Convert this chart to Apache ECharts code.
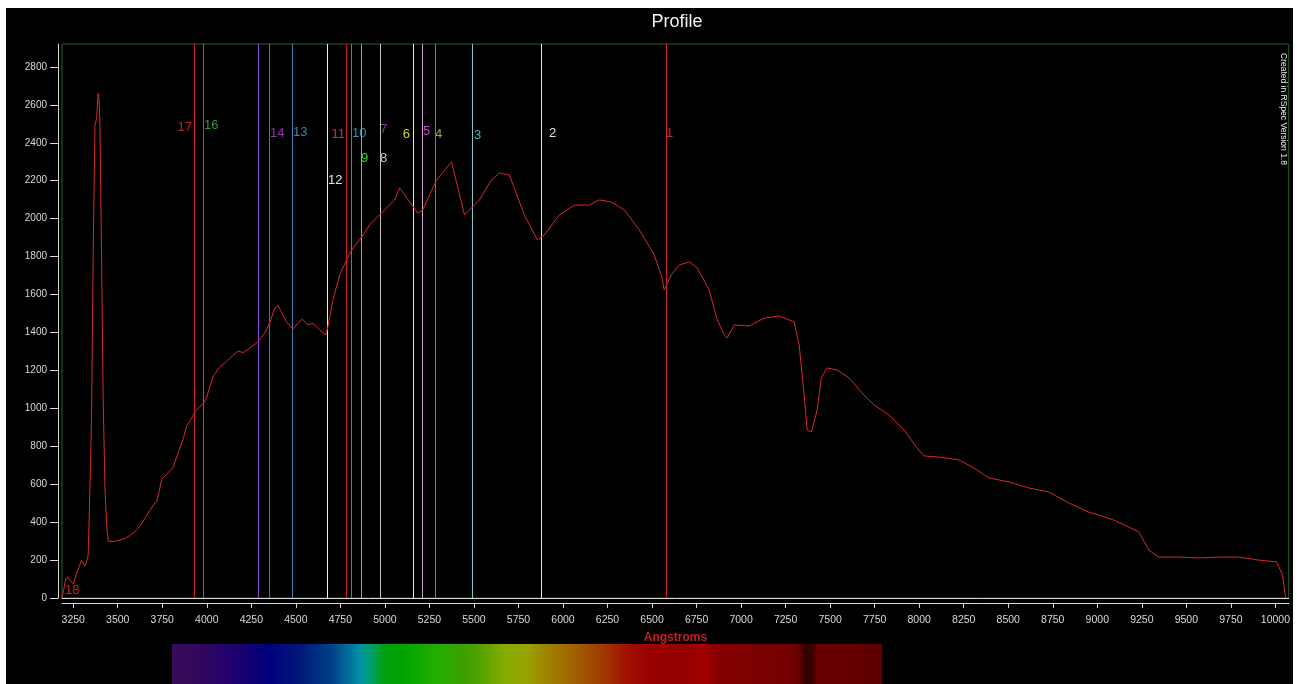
<!DOCTYPE html>
<html>
<head>
<meta charset="utf-8">
<script src="https://cdn.jsdelivr.net/npm/echarts@6/dist/echarts.min.js"></script>
<style>
  html, body { margin: 0; padding: 0; background: #fff; width: 1297px; height: 684px; overflow: hidden; }
  #chart { position: absolute; left: 6px; top: 8px; width: 1287px; height: 676px; background: #000; }
</style>
</head>
<body>
<div id="chart"></div>
<script>
// Spectral profile (wavelength in Angstroms, intensity in counts)
const wavelengths = [
  3187, 3191, 3200, 3208, 3216, 3225, 3235, 3250, 3260, 3269, 3285, 3297, 3306, 3316, 3325, 3334,
  3344, 3353, 3362, 3372, 3381, 3390, 3395, 3400, 3409, 3418, 3428, 3437, 3446, 3456, 3475, 3493,
  3512, 3530, 3549, 3568, 3587, 3606, 3625, 3643, 3662, 3680, 3700, 3718, 3732, 3746, 3760, 3774,
  3792, 3811, 3830, 3849, 3868, 3886, 3905, 3923, 3933, 3961, 3980, 3998, 4035, 4073, 4110, 4148,
  4176, 4204, 4241, 4288, 4325, 4353, 4381, 4400, 4419, 4447, 4484, 4512, 4537, 4568, 4596, 4634,
  4668, 4680, 4708, 4746, 4780, 4813, 4870, 4914, 4970, 5055, 5083, 5184, 5212, 5290, 5374, 5447,
  5475, 5531, 5598, 5643, 5699, 5783, 5856, 5895, 5980, 6064, 6148, 6204, 6271, 6344, 6428, 6512,
  6557, 6568, 6608, 6653, 6709, 6754, 6821, 6866, 6905, 6922, 6961, 7046, 7130, 7214, 7298, 7326,
  7354, 7371, 7394, 7427, 7450, 7483, 7539, 7607, 7674, 7747, 7831, 7915, 7988, 8027, 8111, 8223,
  8307, 8391, 8504, 8616, 8728, 8840, 8952, 9008, 9092, 9177, 9233, 9289, 9345, 9457, 9569, 9681,
  9793, 9906, 10007, 10040, 10057
];
const intensities = [
  0, 8, 60, 100, 112, 105, 90, 75, 100, 132, 170, 198, 185, 170, 190, 226,
  585, 962, 1811, 2490, 2528, 2660, 2640, 2490, 1811, 1057, 585, 396, 300, 292, 298, 302,
  305, 311, 318, 330, 345, 358, 380, 406, 435, 462, 490, 509, 560, 623, 640, 651,
  670, 689, 740, 792, 840, 905, 935, 962, 982, 1009, 1025, 1055, 1167, 1218, 1246, 1281,
  1302, 1294, 1317, 1351, 1396, 1449, 1528, 1540, 1510, 1457, 1417, 1449, 1470, 1440, 1449, 1413,
  1387, 1431, 1571, 1703, 1772, 1835, 1904, 1967, 2020, 2099, 2162, 2030, 2046, 2204, 2299, 2020,
  2046, 2099, 2204, 2241, 2230, 2020, 1888, 1914, 2020, 2072, 2072, 2099, 2088, 2046, 1941, 1809,
  1687, 1624, 1703, 1756, 1772, 1740, 1624, 1466, 1387, 1371, 1440, 1434, 1476, 1487, 1455, 1334,
  1070, 886, 875, 991, 1160, 1213, 1202, 1160, 1086, 1018, 965, 886, 791, 749, 743, 728,
  686, 633, 612, 580, 559, 501, 453, 438, 411, 374, 348, 253, 216, 216, 211, 216,
  216, 200, 190, 121, 0
];

// Axis ticks
const xTicks = [3250, 3500, 3750, 4000, 4250, 4500, 4750, 5000, 5250, 5500, 5750, 6000, 6250, 6500,
  6750, 7000, 7250, 7500, 7750, 8000, 8250, 8500, 8750, 9000, 9250, 9500, 9750, 10000];
const yTicks = [0, 200, 400, 600, 800, 1000, 1200, 1400, 1600, 1800, 2000, 2200, 2400, 2600, 2800];

// Identified line markers
const markerNames = ['1', '2', '3', '4', '5', '6', '7', '8', '9', '10', '11', '12', '13', '14', '15', '16', '17', '18'];
const markerWavelengths = [6579, 5874, 5488, 5282, 5208, 5159, 4970, 4970, 4868, 4809, 4780, 4676, 4481, 4348, 4288, 3976, 3929, 3187];

// Visible spectrum strip (wavelength, colour)
const stripWavelengths = [3804, 3950, 4190, 4350, 4520, 4690, 4820, 4860, 4920, 4990, 5100, 5290, 5430, 5500,
  5680, 5810, 5900, 6070, 6260, 6360, 6480, 6650, 6790, 6880, 7100, 7300, 7330, 7365, 7395, 7430, 7600, 7792];
const stripColors = ['#3a0a56', '#33085e', '#1a0070', '#00007e', '#001878', '#003c88', '#0078a0', '#0092a4',
  '#00a070', '#00a010', '#00a400', '#22b000', '#3aa000', '#48a000', '#88ac00', '#98a000', '#a08400', '#a06000',
  '#a03000', '#a01000', '#9a0000', '#940000', '#a00000', '#860000', '#7c0000', '#700000', '#600000', '#2e0000',
  '#3a0000', '#680000', '#680000', '#5c0000'];

// ---- styling ----
const lineColors = ['#d02424', '#e6e6e6', '#86c4cc', '#7e7e52', '#cfa0d4', '#e4e4dc', '#8a3aa8', '#c4c4c4',
  '#72c072', '#4a78d6', '#d02020', '#f0f0f0', '#4a80b0', '#8a44d8', '#8a44d8', '#34883a', '#d02020', null];
const labelColors = ['#d42222', '#e4e4e4', '#48b4c4', '#a0a040', '#c040c8', '#d4d040', '#8a32a6', '#c8c8c8',
  '#34d034', '#3a90a8', '#e02424', '#e4e4e4', '#3a86a8', '#9432ac', null, '#2f9a36', '#c82020', '#d42020'];
// label placement: horizontal gap to its line (negative = text on the left) and text centre height in px
const labelDx = [0, 8, 2, 0, 1, -3, 0, 0, 0, 1, -1, 1, 1, 1, 0, 1, -2, 3];
const labelY = [125, 125, 127, 126, 123, 126, 121, 150, 150, 125, 126, 172, 124, 125, 0, 117, 119, 582];

const AXIS_FONT = '"Liberation Sans", Arial, sans-serif';

const profile = wavelengths.map((w, i) => [w, intensities[i]]);
const markerData = [];
markerWavelengths.forEach((w, i) => { if (lineColors[i]) markerData.push([w, i]); });

const chart = echarts.init(document.getElementById('chart'), null, { renderer: 'canvas' });

const grid = { left: 56, top: 36, width: 1228, height: 554, show: true, borderColor: '#2c5c2c', borderWidth: 1, backgroundColor: 'transparent' };
const plain = v => String(v);

chart.setOption({
  animation: false,
  backgroundColor: '#000',
  grid: grid,
  xAxis: [{
    type: 'value', min: 3187, max: 10075, position: 'bottom', offset: 5,
    axisLine: { show: true, onZero: false, lineStyle: { color: '#d8d8d8', width: 1 } },
    axisTick: { show: true, length: 5, customValues: xTicks, lineStyle: { color: '#d8d8d8' } },
    axisLabel: { customValues: xTicks, formatter: plain, color: '#d8d8d8', fontSize: 10.5, fontFamily: AXIS_FONT, margin: 12 },
    splitLine: { show: false },
    name: 'Angstroms', nameLocation: 'middle', nameGap: 29,
    nameTextStyle: { color: '#cc1c1c', fontSize: 12, fontWeight: 'bold', fontFamily: AXIS_FONT }
  }, {
    type: 'value', min: 3187, max: 10075, position: 'bottom', offset: 0,
    axisLine: { show: true, onZero: false, lineStyle: { color: '#d8d8d8', width: 1 } },
    axisTick: { show: false }, axisLabel: { show: false }, splitLine: { show: false }
  }],
  yAxis: {
    type: 'value', min: 0, max: 2921, offset: 4,
    axisLine: { show: true, onZero: false, lineStyle: { color: '#d8d8d8', width: 1 } },
    axisTick: { show: true, length: 8, customValues: yTicks, lineStyle: { color: '#d8d8d8' } },
    axisLabel: { customValues: yTicks, formatter: plain, color: '#d8d8d8', fontSize: 10, fontFamily: AXIS_FONT, margin: 11 },
    splitLine: { show: false }
  },
  series: [{
    // vertical marker lines spanning the plot, snapped to whole pixels
    name: 'markers', type: 'custom', z: 2, silent: true,
    data: markerData,
    encode: { x: 0, y: 1 },
    renderItem: function (params, api) {
      const cs = params.coordSys;
      const x = Math.round(api.coord([api.value(0), 0])[0]) + 0.5;
      return {
        type: 'line',
        shape: { x1: x, y1: cs.y, x2: x, y2: cs.y + cs.height },
        style: { stroke: lineColors[api.value(1)], lineWidth: 1 }
      };
    }
  }, {
    name: 'Profile', type: 'line', data: profile, showSymbol: false, z: 5, silent: true,
    lineStyle: { color: '#d62a2a', width: 1 }
  }]
});

// Overlay text and the visible-spectrum strip, positioned through the axis scales
function px(w) { return chart.convertToPixel({ xAxisIndex: 0 }, w); }

const graphics = [];
graphics.push({
  type: 'text', x: 671, y: 14,
  style: { text: 'Profile', fill: '#f2f2f2', font: '18px ' + AXIS_FONT, textAlign: 'center', textVerticalAlign: 'middle' }
});
graphics.push({
  type: 'text', x: 1277, y: 101, rotation: -Math.PI / 2,
  style: { text: 'Created in RSpec Version 1.8', fill: '#e8e8e8', font: '8.5px ' + AXIS_FONT, textAlign: 'center', textVerticalAlign: 'middle' }
});

markerNames.forEach((name, i) => {
  if (!labelColors[i]) return;
  const lx = (i === markerNames.length - 1) ? grid.left : Math.round(px(markerWavelengths[i]));
  const dx = labelDx[i];
  graphics.push({
    type: 'text', x: lx + dx, y: labelY[i],
    style: { text: name, fill: labelColors[i], font: '13px ' + AXIS_FONT, textAlign: dx < 0 ? 'right' : 'left', textVerticalAlign: 'middle' }
  });
});

const s0 = stripWavelengths[0], s1 = stripWavelengths[stripWavelengths.length - 1];
const x0 = px(s0), x1 = px(s1);
graphics.push({
  type: 'rect', shape: { x: x0, y: 636, width: x1 - x0, height: 40 },
  style: {
    fill: {
      type: 'linear', x: 0, y: 0, x2: 1, y2: 0,
      colorStops: stripWavelengths.map((w, i) => ({ offset: (w - s0) / (s1 - s0), color: stripColors[i] }))
    }
  }
});

chart.setOption({ graphic: graphics });
</script>
</body>
</html>
